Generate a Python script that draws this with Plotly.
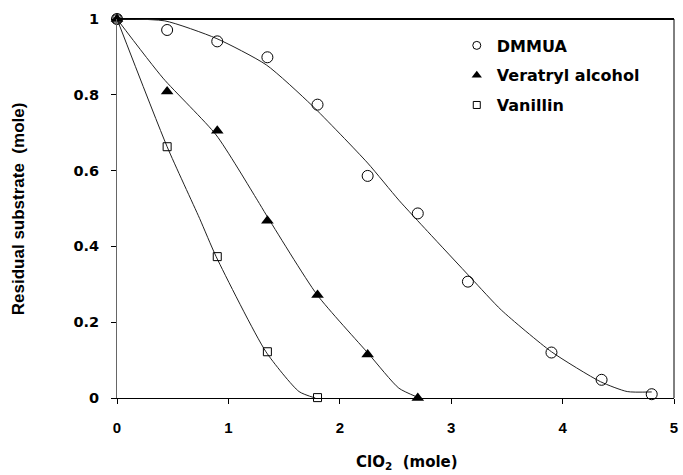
import plotly.graph_objects as go

# Measured residual substrate vs ClO2 dose
dmmua_x = [0, 0.45, 0.9, 1.35, 1.8, 2.25, 2.7, 3.15, 3.9, 4.35, 4.8]
dmmua_y = [1.0, 0.971, 0.941, 0.899, 0.774, 0.586, 0.487, 0.307, 0.12, 0.048, 0.01]

vera_x = [0, 0.45, 0.9, 1.35, 1.8, 2.25, 2.7]
vera_y = [1.0, 0.809, 0.705, 0.468, 0.272, 0.115, 0.0]

vani_x = [0, 0.45, 0.9, 1.35, 1.8]
vani_y = [1.0, 0.663, 0.373, 0.122, 0.001]

# Fitted trend curves (knot points)
dmmua_fit_x = [0, 0.43, 0.89, 1.34, 1.75, 2.25, 2.53, 2.79, 3.18, 3.45, 3.9, 4.34, 4.58, 4.8]
dmmua_fit_y = [1.0, 0.995, 0.949, 0.879, 0.772, 0.62, 0.522, 0.439, 0.316, 0.232, 0.122, 0.043, 0.017, 0.016]

vera_fit_x = [0, 0.413, 0.89, 1.26, 1.34, 1.797, 2.26, 2.53, 2.69]
vera_fit_y = [1.0, 0.844, 0.694, 0.522, 0.483, 0.272, 0.116, 0.026, 0.003]

vani_fit_x = [0, 0.45, 0.741, 0.89, 1.337, 1.634, 1.78]
vani_fit_y = [1.0, 0.663, 0.474, 0.373, 0.122, 0.017, 0.0]

x_ticks = [0, 1, 2, 3, 4, 5]
y_ticks = [0, 0.2, 0.4, 0.6, 0.8, 1.0]
y_ticktext = ["0", "0.2", "0.4", "0.6", "0.8", "1"]

WIDE = "'DejaVu Sans', Verdana, sans-serif"
NARROW = "Arial, 'Liberation Sans', Helvetica, sans-serif"
CURVE = dict(color="#222222", width=1, shape="spline", smoothing=0.6)

fig = go.Figure()

for fx, fy in [(dmmua_fit_x, dmmua_fit_y), (vera_fit_x, vera_fit_y), (vani_fit_x, vani_fit_y)]:
    fig.add_trace(go.Scatter(x=fx, y=fy, mode="lines", line=CURVE,
                             showlegend=False, hoverinfo="skip", cliponaxis=False))

series = [
    ("DMMUA", dmmua_x, dmmua_y, dict(symbol="circle-open", size=11, color="black", line=dict(width=1)), 8),
    ("Veratryl alcohol", vera_x, vera_y, dict(symbol="triangle-up", size=11, color="black"), 9),
    ("Vanillin", vani_x, vani_y, dict(symbol="square-open", size=8, color="black", line=dict(width=1)), 7),
]

for i, (name, sx, sy, mk, legend_size) in enumerate(series):
    fig.add_trace(go.Scatter(x=sx, y=sy, mode="markers", marker=mk, name=name,
                             showlegend=False, cliponaxis=False))
    leg_mk = dict(mk)
    leg_mk["size"] = legend_size
    fig.add_trace(go.Scatter(x=[None], y=[None], mode="markers", marker=leg_mk,
                             name=name, legendgroup=f"g{i}", showlegend=True))

fig.update_layout(
    width=683, height=475,
    margin=dict(l=117, r=5, t=19, b=77),
    paper_bgcolor="white", plot_bgcolor="white",
    font=dict(family=WIDE, color="black"),
    showlegend=True,
    legend=dict(
        x=0.61, y=0.975, xanchor="left", yanchor="top",
        bgcolor="rgba(0,0,0,0)", borderwidth=0,
        font=dict(family=WIDE, size=16, color="black", weight="bold"),
        tracegroupgap=6, itemwidth=30,
    ),
    xaxis=dict(
        range=[0, 5], tickvals=x_ticks, showgrid=False, zeroline=False,
        showline=True, linecolor="black", linewidth=1,
        ticks="outside", ticklen=5, tickcolor="black", tickwidth=1,
        tickfont=dict(family=NARROW, size=15, color="black", weight="bold"),
        ticklabelstandoff=11, ticklabeloverflow="allow",
    ),
    yaxis=dict(
        range=[0, 1], tickvals=y_ticks, ticktext=y_ticktext, showgrid=False, zeroline=False,
        showline=True, linecolor="#666666", linewidth=1,
        ticks="outside", ticklen=5, tickcolor="black", tickwidth=1,
        tickfont=dict(family=WIDE, size=14.5, color="black", weight="bold"),
        ticklabelstandoff=9, ticklabeloverflow="allow",
    ),
    shapes=[
        dict(type="line", xref="paper", yref="paper", x0=0, x1=1, y0=1, y1=1,
             line=dict(color="black", width=2), layer="below"),
        dict(type="line", xref="paper", yref="paper", x0=1, x1=1, y0=0, y1=1,
             line=dict(color="black", width=1), layer="below"),
    ],
    annotations=[
        dict(text="Residual substrate\u00a0\u00a0(mole)", xref="paper", yref="paper",
             x=-0.1765, y=0.5, xanchor="center", yanchor="middle", textangle=-90,
             showarrow=False, font=dict(family=NARROW, size=17, color="black", weight="bold")),
        dict(text="ClO<sub>2</sub>\u00a0\u00a0(mole)", xref="paper", yref="paper",
             x=0.52, y=-0.1715, xanchor="center", yanchor="middle",
             showarrow=False, font=dict(family=WIDE, size=15, color="black", weight="bold")),
    ],
)

fig.write_html("out.html")
